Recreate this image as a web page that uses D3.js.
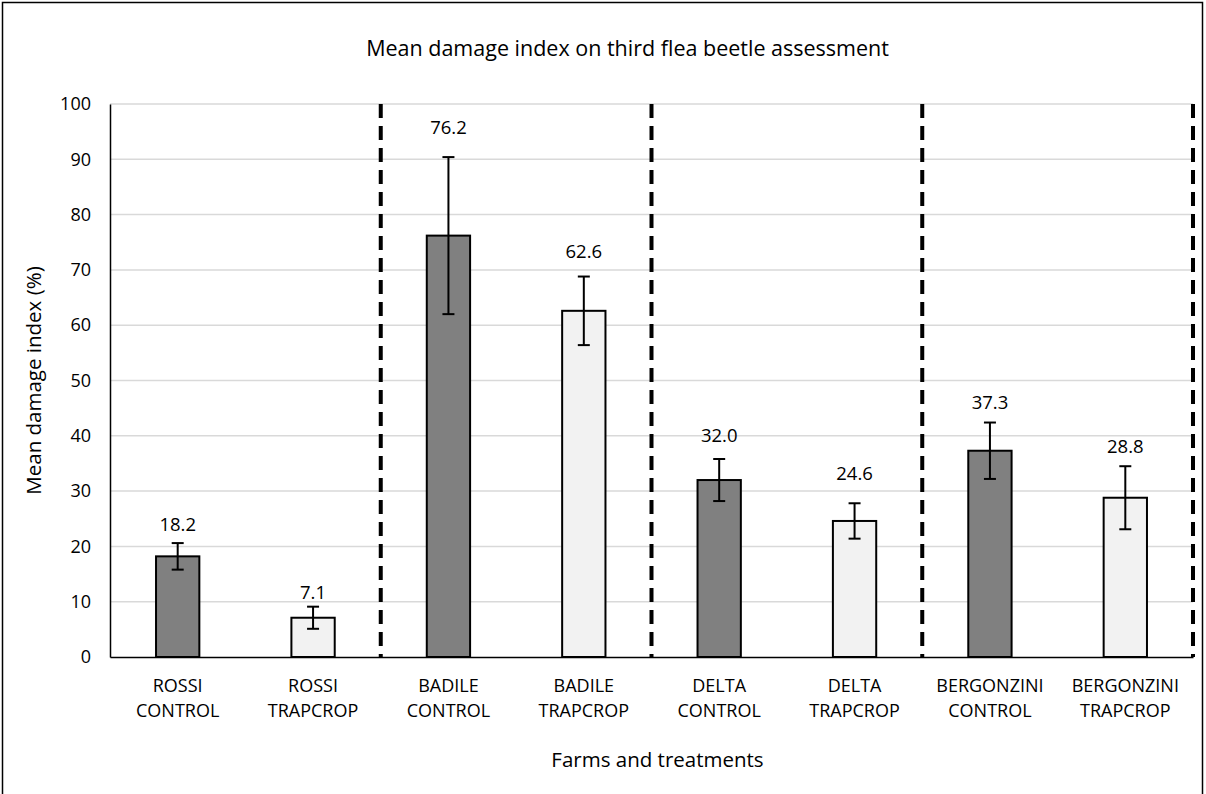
<!DOCTYPE html>
<html><head><meta charset="utf-8">
<script src="https://cdn.jsdelivr.net/npm/d3@7"></script>
<style>
html,body{margin:0;padding:0;background:#fff;}
text{font-family:"Open Sans","Noto Sans",sans-serif;fill:#000;}
</style></head>
<body>
<svg id="c" width="1206" height="794"></svg>
<script>
const categories = ["ROSSI CONTROL","ROSSI TRAPCROP","BADILE CONTROL","BADILE TRAPCROP","DELTA CONTROL","DELTA TRAPCROP","BERGONZINI CONTROL","BERGONZINI TRAPCROP"];
const treatments = ["CONTROL","TRAPCROP","CONTROL","TRAPCROP","CONTROL","TRAPCROP","CONTROL","TRAPCROP"];
const means = [18.2, 7.1, 76.2, 62.6, 32.0, 24.6, 37.3, 28.8];
const errors = [2.4, 2.0, 14.2, 6.2, 3.8, 3.2, 5.1, 5.7];
const labelAt = [23.9, 11.6, 95.7, 73.3, 40.1, 33.1, 46.0, 38.1];
const yTicks = [0,10,20,30,40,50,60,70,80,90,100];
const farmDividers = ["BADILE CONTROL","DELTA CONTROL","BERGONZINI CONTROL"];

const svg = d3.select("#c");
const W = 1206, H = 794;
const m = {left:110, right:13, top:104, bottom:137};

svg.append("rect").attr("x",2.5).attr("y",2.5).attr("width",1200).attr("height",H+10)
  .attr("fill","#fff").attr("stroke","#000").attr("stroke-width",1.5);

const x = d3.scaleBand().domain(categories).range([m.left, W-m.right]).paddingInner(0.68).paddingOuter(0.34);
const y = d3.scaleLinear().domain([0,100]).range([H-m.bottom, m.top]);
const fill = d3.scaleOrdinal().domain(["CONTROL","TRAPCROP"]).range(["#808080","#f2f2f2"]);

// grid
svg.append("g").selectAll("line").data(yTicks.filter(d=>d>0)).join("line")
  .attr("x1",m.left).attr("x2",W-m.right).attr("y1",d=>y(d)).attr("y2",d=>y(d))
  .attr("stroke","#d9d9d9").attr("stroke-width",1.5);

// y axis
const ya = svg.append("g").attr("transform",`translate(${m.left},0)`)
  .call(d3.axisLeft(y).tickValues(yTicks).tickSize(0).tickPadding(19));
ya.attr("font-size",null).attr("font-family",null);
ya.select(".domain").attr("stroke","#000").attr("stroke-width",1.5);
ya.selectAll("text").attr("font-size",18);

// dividers
const step = x.step();
const divX = farmDividers.map(c => x(c) - (step - x.bandwidth())/2);
divX.push(W-m.right);
svg.append("g").selectAll("line").data(divX).join("line")
  .attr("x1",d=>d).attr("x2",d=>d).attr("y1",y(100)).attr("y2",y(0))
  .attr("stroke","#000").attr("stroke-width",4).attr("stroke-dasharray","14,8");

// bars
svg.append("g").selectAll("rect").data(categories).join("rect")
  .attr("x",d=>x(d)).attr("width",x.bandwidth())
  .attr("y",(d,i)=>y(means[i])).attr("height",(d,i)=>y(0)-y(means[i]))
  .attr("fill",(d,i)=>fill(treatments[i])).attr("stroke","#000").attr("stroke-width",2);

// x axis
const xa = svg.append("g").attr("transform",`translate(0,${y(0)})`)
  .call(d3.axisBottom(x).tickSize(0).tickFormat(""));
xa.select(".domain").attr("stroke","#000").attr("stroke-width",1.5);

// error bars
const eb = svg.append("g").attr("stroke","#000").attr("stroke-width",2);
categories.forEach((c,i)=>{
  const cx = x(c)+x.bandwidth()/2;
  const t = y(means[i]+errors[i]), b = y(means[i]-errors[i]);
  eb.append("line").attr("x1",cx).attr("x2",cx).attr("y1",t).attr("y2",b);
  eb.append("line").attr("x1",cx-6).attr("x2",cx+6).attr("y1",t).attr("y2",t);
  eb.append("line").attr("x1",cx-6).attr("x2",cx+6).attr("y1",b).attr("y2",b);
});

// value labels
svg.append("g").selectAll("text").data(categories).join("text")
  .attr("x",d=>x(d)+x.bandwidth()/2).attr("y",(d,i)=>y(labelAt[i]))
  .attr("dy","0.35em").attr("text-anchor","middle").attr("font-size",18.5)
  .text((d,i)=>means[i].toFixed(1));

// category labels
const cl = svg.append("g");
categories.forEach(c=>{
  const parts = c.split(" ");
  const t = cl.append("text").attr("x",x(c)+x.bandwidth()/2).attr("y",y(0)+35)
    .attr("text-anchor","middle").attr("font-size",18);
  t.append("tspan").attr("x",x(c)+x.bandwidth()/2).text(parts[0]);
  t.append("tspan").attr("x",x(c)+x.bandwidth()/2).attr("dy",25).text(parts[1]);
});

// titles
svg.append("text").attr("x",(m.left+W-m.right)/2-24).attr("y",56).attr("text-anchor","middle")
  .attr("font-size",21.5).text("Mean damage index on third flea beetle assessment");
svg.append("text").attr("x",(m.left+W-m.right)/2+6).attr("y",767).attr("text-anchor","middle")
  .attr("font-size",20.5).text("Farms and treatments");
svg.append("text").attr("transform",`translate(41,${(y(0)+y(100))/2}) rotate(-90)`)
  .attr("text-anchor","middle").attr("font-size",20.5).text("Mean damage index (%)");
</script>
</body></html>
